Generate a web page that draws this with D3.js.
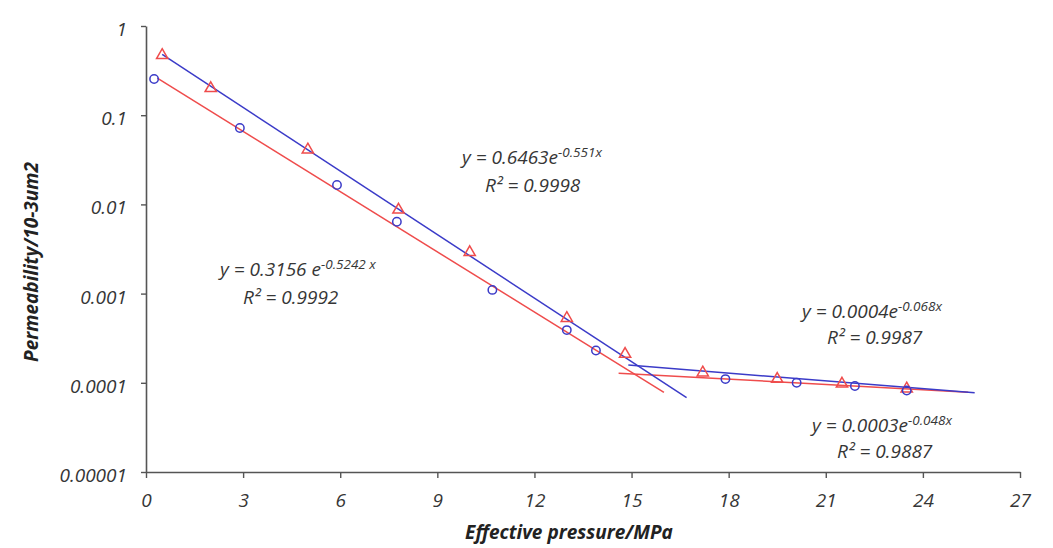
<!DOCTYPE html>
<html>
<head>
<meta charset="utf-8">
<script src="https://cdn.jsdelivr.net/npm/d3@7"></script>
<style>
  html, body { margin: 0; padding: 0; background: #fff; }
  svg { display: block; }
  text { font-family: "Open Sans", "DejaVu Sans", sans-serif; font-style: italic; }
</style>
</head>
<body>
<svg id="chart" width="1053" height="548"></svg>
<script>
// ---- data ----
const xTicks = [0, 3, 6, 9, 12, 15, 18, 21, 24, 27];
const yTicks = [1, 0.1, 0.01, 0.001, 0.0001, 0.00001];
const yTickLabels = ["1", "0.1", "0.01", "0.001", "0.0001", "0.00001"];

// triangle series (red markers)
const triX = [0.5, 2.0, 5.0, 7.8, 10.0, 13.0, 14.8, 17.2, 19.5, 21.5, 23.5];
const triY = [0.47, 0.20, 0.041, 0.0087, 0.0029, 0.00053, 0.00021, 0.00013, 0.00011, 0.0000975, 0.000086];

// circle series (blue markers)
const circX = [0.25, 2.9, 5.9, 7.75, 10.7, 13.0, 13.9, 17.9, 20.1, 21.9, 23.5];
const circY = [0.255, 0.072, 0.0165, 0.0064, 0.0011, 0.00039, 0.00023, 0.00011, 0.0001, 0.000092, 0.000082];

// trend line endpoints
const blueSteepX = [0.5, 16.7];
const blueSteepY = [0.48, 0.000068];
const redSteepX = [0.35, 16.0];
const redSteepY = [0.26, 0.000078];
const blueFlatX = [14.9, 25.6];
const blueFlatY = [0.000158, 0.0000775];
const redFlatX = [14.6, 25.4];
const redFlatY = [0.000128, 0.0000785];

// equation labels
const eqLabels = [
  { main: "y = 0.6463e", sup: "-0.551x", r2: "R² = 0.9998" },
  { main: "y = 0.3156 e", sup: "-0.5242 x", r2: "R² = 0.9992" },
  { main: "y = 0.0004e", sup: "-0.068x", r2: "R² = 0.9987" },
  { main: "y = 0.0003e", sup: "-0.048x", r2: "R² = 0.9887" }
];

// ---- layout ----
const svg = d3.select("#chart");
const mLeft = 146, mRight = 1020, mTop = 26, mBottom = 472;
const x = d3.scaleLinear().domain([0, 27]).range([mLeft, mRight]);
const y = d3.scaleLog().domain([0.00001, 1]).range([mBottom, mTop]);

const axisColor = "#555";
const textColor = "#363636";
const blue = "#3b3bc8";
const red = "#ef4c4c";

// axes
const gx = svg.append("g").attr("transform", `translate(0,${mBottom})`)
  .call(d3.axisBottom(x).tickValues(xTicks).tickSize(6).tickSizeOuter(0).tickPadding(16).tickFormat(d3.format("d")));
const gy = svg.append("g").attr("transform", `translate(${mLeft},0)`)
  .call(d3.axisLeft(y).tickValues(yTicks).tickSize(5).tickSizeOuter(0).tickPadding(14)
    .tickFormat((d, i) => yTickLabels[i]));
[gx, gy].forEach(g => {
  g.select(".domain").attr("stroke", axisColor).attr("stroke-width", 1.6);
  g.selectAll(".tick line").attr("stroke", axisColor).attr("stroke-width", 1.4);
  g.selectAll(".tick text").attr("fill", textColor).style("font-size", "19px")
    .style("font-family", "'Open Sans', sans-serif").style("font-style", "italic");
});
gy.selectAll(".tick text").attr("dy", "0.5em");

// trend lines
const line = d3.line().x(d => x(d[0])).y(d => y(d[1]));
function drawTrend(xs, ys, color) {
  svg.append("path").datum(xs.map((v, i) => [v, ys[i]]))
    .attr("d", line).attr("fill", "none").attr("stroke", color).attr("stroke-width", 1.5);
}
drawTrend(redSteepX, redSteepY, red);
drawTrend(redFlatX, redFlatY, red);
drawTrend(blueSteepX, blueSteepY, blue);
drawTrend(blueFlatX, blueFlatY, blue);

// markers
svg.append("g").selectAll("path").data(triX.map((v, i) => [v, triY[i]])).join("path")
  .attr("d", d3.symbol().type(d3.symbolTriangle).size(55))
  .attr("transform", d => `translate(${x(d[0])},${y(d[1])})`)
  .attr("fill", "none").attr("stroke", red).attr("stroke-width", 1.5);
svg.append("g").selectAll("circle").data(circX.map((v, i) => [v, circY[i]])).join("circle")
  .attr("cx", d => x(d[0])).attr("cy", d => y(d[1])).attr("r", 4.2)
  .attr("fill", "none").attr("stroke", blue).attr("stroke-width", 1.5);

// equation labels
const eqPos = [
  { x: 462, y: 164, rx: 485, ry: 192 },
  { x: 220, y: 276, rx: 243, ry: 304 },
  { x: 802, y: 318, rx: 827, ry: 344 },
  { x: 812, y: 432, rx: 837, ry: 458 }
];
eqLabels.forEach((e, i) => {
  const p = eqPos[i];
  const t = svg.append("text").attr("x", p.x).attr("y", p.y)
    .attr("fill", textColor).style("font-size", "19px");
  t.append("tspan").text(e.main);
  t.append("tspan").attr("dy", -7).style("font-size", "13.5px").text(e.sup);
  svg.append("text").attr("x", p.rx).attr("y", p.ry)
    .attr("fill", textColor).style("font-size", "19px").text(e.r2);
});

// axis titles
svg.append("text").attr("x", 569).attr("y", 539).attr("text-anchor", "middle")
  .attr("fill", "#222").style("font-size", "19px").style("font-weight", "bold")
  .text("Effective  pressure/MPa");
svg.append("text").attr("transform", "translate(38,262) rotate(-90)").attr("text-anchor", "middle")
  .attr("fill", "#222").style("font-size", "19px").style("font-weight", "bold")
  .text("Permeability/10-3um2");
</script>
</body>
</html>
